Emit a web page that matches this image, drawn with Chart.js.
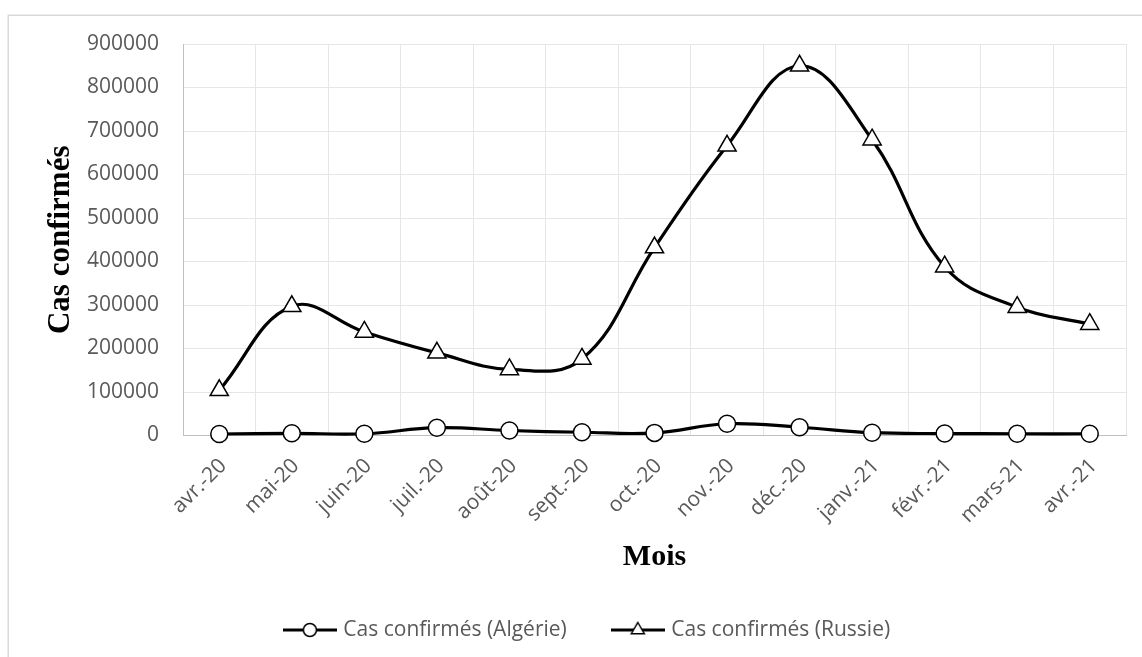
<!DOCTYPE html>
<html>
<head>
<meta charset="utf-8">
<script src="https://cdn.jsdelivr.net/npm/chart.js@4/dist/chart.umd.min.js"></script>
<style>
html,body{margin:0;padding:0;background:#fff;}
#wrap{width:1142px;height:657px;position:relative;}
</style>
</head>
<body>
<div id="wrap"><canvas id="c" width="1142" height="657"></canvas></div>
<script>
// ---- data ----
const months = ['avr.-20','mai-20','juin-20','juil.-20','août-20','sept.-20','oct.-20','nov.-20','déc.-20','janv.-21','févr.-21','mars-21','avr.-21'];
const algerie = [3500, 5000, 4000, 18000, 11500, 7500, 6000, 27000, 19000, 6500, 4500, 4000, 4000];
const russie = [104000, 297000, 238000, 190000, 152000, 176000, 432000, 666000, 850000, 680000, 388000, 295000, 256000];
const seriesNames = ['Cas confirmés (Algérie)', 'Cas confirmés (Russie)'];
const seriesMarkers = ['circle', 'triangle'];
const yTicks = [0, 100000, 200000, 300000, 400000, 500000, 600000, 700000, 800000, 900000];
const xTitle = 'Mois';
const yTitle = 'Cas confirmés';

// legend symbol: short line with marker
function legendSymbol(style) {
  const cv = document.createElement('canvas');
  cv.width = 54; cv.height = 20;
  const g = cv.getContext('2d');
  g.strokeStyle = '#000'; g.lineWidth = 3;
  g.beginPath(); g.moveTo(0, 10); g.lineTo(54, 10); g.stroke();
  g.fillStyle = '#fff'; g.lineWidth = 1.5;
  g.beginPath();
  if (style === 'circle') {
    g.arc(27, 10, 6.5, 0, Math.PI * 2);
  } else {
    const r = 7.5;
    g.moveTo(27, 10 - r);
    g.lineTo(27 + r * 0.866, 10 + r / 2);
    g.lineTo(27 - r * 0.866, 10 + r / 2);
    g.closePath();
  }
  g.fill(); g.stroke();
  return cv;
}
const legendImgs = seriesMarkers.map(legendSymbol);

const framePlugin = {
  id: 'frame',
  beforeDraw(chart) {
    const c = chart.ctx;
    c.save();
    c.fillStyle = '#fff';
    c.fillRect(0, 0, chart.width, chart.height);
    c.strokeStyle = '#d9d9d9';
    c.lineWidth = 1.5;
    c.strokeRect(8.25, 15.25, 1400, 900);
    c.restore();
  }
};

const gridColor = '#e6e6e6';
const axisColor = '#bfbfbf';
const tickColor = '#595959';

new Chart(document.getElementById('c'), {
  type: 'line',
  data: {
    labels: months,
    datasets: [
      {
        label: seriesNames[0],
        data: algerie,
        borderColor: '#000',
        borderWidth: 3.2,
        tension: 0.4,
        pointStyle: seriesMarkers[0],
        pointRadius: 8.5,
        pointBorderWidth: 1.5,
        pointBackgroundColor: '#fff',
        pointBorderColor: '#000',
        clip: false
      },
      {
        label: seriesNames[1],
        data: russie,
        borderColor: '#000',
        borderWidth: 3.2,
        tension: 0.4,
        pointStyle: seriesMarkers[1],
        pointRadius: 10.5,
        pointBorderWidth: 1.5,
        pointBackgroundColor: '#fff',
        pointBorderColor: '#000',
        clip: false
      }
    ]
  },
  options: {
    responsive: false,
    animation: false,
    events: [],
    layout: { padding: { left: 51, right: 16, top: 44, bottom: 6.5 } },
    plugins: {
      tooltip: { enabled: false },
      legend: {
        position: 'bottom',
        labels: {
          usePointStyle: true,
          pointStyleWidth: 46,
          padding: 48,
          color: tickColor,
          font: { family: "'Open Sans'", size: 21 },
          generateLabels: (chart) => chart.data.datasets.map((ds, i) => ({
            text: seriesNames[i],
            pointStyle: legendImgs[i],
            fillStyle: '#fff',
            strokeStyle: '#000',
            lineWidth: 0,
            hidden: false,
            datasetIndex: i,
            fontColor: tickColor
          }))
        }
      }
    },
    scales: {
      x: {
        offset: true,
        grid: { offset: true, color: gridColor, lineWidth: 1, drawTicks: false },
        border: { color: axisColor, width: 1 },
        ticks: {
          autoSkip: false,
          maxRotation: 45,
          minRotation: 45,
          padding: 18,
          labelOffset: 4,
          color: tickColor,
          font: { family: "'Open Sans'", size: 21 }
        },
        title: {
          display: true,
          text: xTitle,
          color: '#000',
          font: { family: "'Liberation Serif'", size: 30, weight: 'bold', lineHeight: 0.9 },
          padding: { top: 0, bottom: 1 }
        },
        afterFit: (s) => { s.height = 136; }
      },
      y: {
        min: 0,
        max: 900000,
        grid: { color: gridColor, lineWidth: 1, drawTicks: false },
        border: { color: axisColor, width: 1 },
        afterBuildTicks: (s) => { s.ticks = yTicks.map(v => ({ value: v })); },
        ticks: {
          padding: 24,
          color: tickColor,
          font: { family: "'Open Sans'", size: 21 },
          callback: (v) => String(v)
        },
        title: {
          display: true,
          text: yTitle,
          color: '#000',
          font: { family: "'Liberation Serif'", size: 31, weight: 'bold', lineHeight: 0.6 },
          padding: { top: 1, bottom: 0 }
        },
        afterFit: (s) => { s.width = 132; }
      }
    }
  },
  plugins: [framePlugin]
});
</script>
</body>
</html>
